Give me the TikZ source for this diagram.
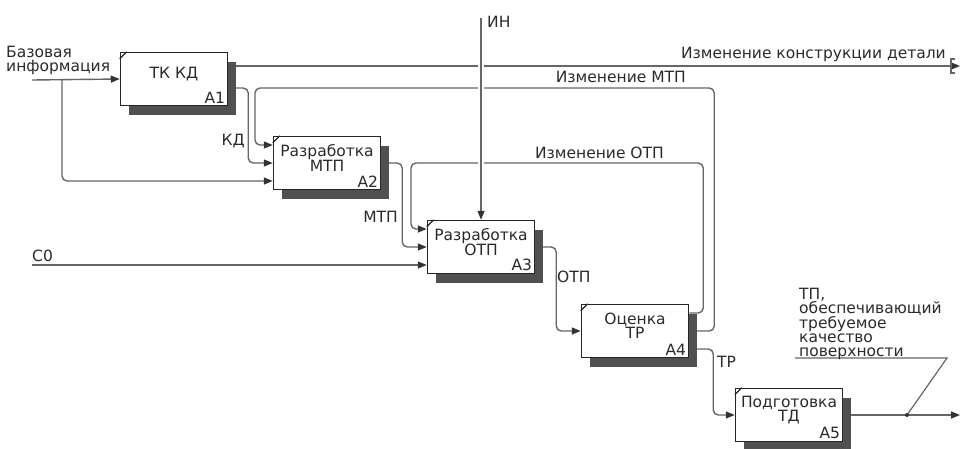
\documentclass[tikz,border=0pt]{standalone}
\usepackage{fontspec}
\setmainfont{DejaVu Sans}
\usetikzlibrary{arrows.meta,shadows,backgrounds}

\definecolor{linegray}{HTML}{666666}
\definecolor{shadowgray}{HTML}{505050}
\definecolor{textgray}{HTML}{2A2A2A}

\tikzset{
  funcbox/.style={rectangle, draw=black!85, line width=1.5pt, fill=white,
    minimum width=107pt, minimum height=53pt, inner sep=0pt,
    drop shadow={shadow xshift=8pt, shadow yshift=-9pt, fill=shadowgray, opacity=1}},
  boxtitle/.style={font=\fontsize{15.5}{14}\selectfont, text=textgray, align=center, inner sep=0pt, yshift=5pt},
  boxnum/.style={font=\fontsize{15.5}{14}\selectfont, text=textgray, inner sep=3pt},
  lbl/.style={font=\fontsize{15.5}{14}\selectfont, text=textgray, inner sep=0pt},
  flow/.style={draw=linegray, line width=1.4pt, rounded corners=5pt,
    -{Triangle[length=9pt, width=7pt, color=black!80]}},
  callout/.style={draw=linegray, line width=1.2pt},
}

\begin{document}
\begin{tikzpicture}[x=1pt, y=-1pt]
  \useasboundingbox (0,0) rectangle (961,448);

  % function boxes
  \node[funcbox, label={[boxtitle]center:ТК КД}, label={[boxnum, anchor=south east]south east:A1}] (a1) at (174,79) {};
  \node[funcbox, label={[boxtitle]center:Разработка\\МТП}, label={[boxnum, anchor=south east]south east:A2}] (a2) at (327,163) {};
  \node[funcbox, label={[boxtitle]center:Разработка\\ОТП}, label={[boxnum, anchor=south east]south east:A3}] (a3) at (481,247) {};
  \node[funcbox, label={[boxtitle]center:Оценка\\ТР}, label={[boxnum, anchor=south east]south east:A4}] (a4) at (635,331) {};
  \node[funcbox, label={[boxtitle]center:Подготовка\\ТД}, label={[boxnum, anchor=south east]south east:A5}] (a5) at (789,415) {};
  \foreach \b in {a1,a2,a3,a4,a5}
    \draw[black!85, line width=1.2pt] ([yshift=-7pt]\b.north west) -- ([xshift=7pt]\b.north west);

  % free ends
  \coordinate (bistart) at (32,80);
  \coordinate (bisplit) at (62,80);
  \coordinate (c0start) at (32,265);
  \coordinate (instart) at (481,18);
  \coordinate (dettunnel) at (960,66);
  \coordinate (tpout) at (960,415);
  \coordinate (tptap) at (907,415);

  \begin{scope}[on background layer]
    \draw[flow] (bistart) -- (a1.west);
    \draw[flow] (bisplit) |- ([yshift=-18pt]a2.west);
    \draw[flow] ([yshift=13pt]a1.east) -- (dettunnel);
    \draw[flow] ([yshift=-9pt]a1.east) -- ++(20,0) |- (a2.west);
    \draw[flow] (a4.east) -- ++(25,0) |- (255,88) |- ([yshift=18pt]a2.west);
    \draw[flow] (a2.east) -- ++(21,0) |- (a3.west);
    \draw[flow] ([yshift=18pt]a4.east) -- ++(14,0) |- (411,163) |- ([yshift=18pt]a3.west);
    \draw[flow] (c0start) -- ([yshift=-18pt]a3.west);
    \draw[flow] (a3.east) -- ++(21,0) |- (a4.west);
    \draw[flow] ([yshift=-18pt]a4.east) -- ++(24,0) |- (a5.west);
    \draw[flow] (a5.east) -- (tpout);
    \draw[white, line width=6pt] (481,50) -- (481,175);
    \draw[flow] (instart) -- (a3.north);
  \end{scope}

  % tunnel and call-out
  \draw[linegray, line width=1.1pt] (955,59) -- (951,59) -- (951,73) -- (955,73);
  \draw[callout] (795,358) -- (947,358) -- (tptap);
  \fill[black!80] (tptap) circle (2pt);

  % labels
  \node[lbl, anchor=north west, align=left] (bitext) at (6,46) {Базовая\\информация};
  \node[lbl, anchor=base east] (dettext) at (946,58) {Изменение конструкции детали};
  \node[lbl, anchor=base east] (kdtext) at (245,145) {КД};
  \node[lbl, anchor=base east] (mtpchg) at (686,82) {Изменение МТП};
  \node[lbl, anchor=base west] (intext) at (487,27) {ИН};
  \node[lbl, anchor=base east] (mtptext) at (398,222) {МТП};
  \node[lbl, anchor=base east] (otpchg) at (664,158) {Изменение ОТП};
  \node[lbl, anchor=base west] (c0text) at (32,261) {С0};
  \node[lbl, anchor=base west] (otptext) at (557,282) {ОТП};
  \node[lbl, anchor=base west] (trtext) at (717,367) {ТР};
  \node[lbl, anchor=north west, align=left] (tptext) at (799,288) {ТП,\\обеспечивающий\\требуемое\\качество\\поверхности};
\end{tikzpicture}
\end{document}
